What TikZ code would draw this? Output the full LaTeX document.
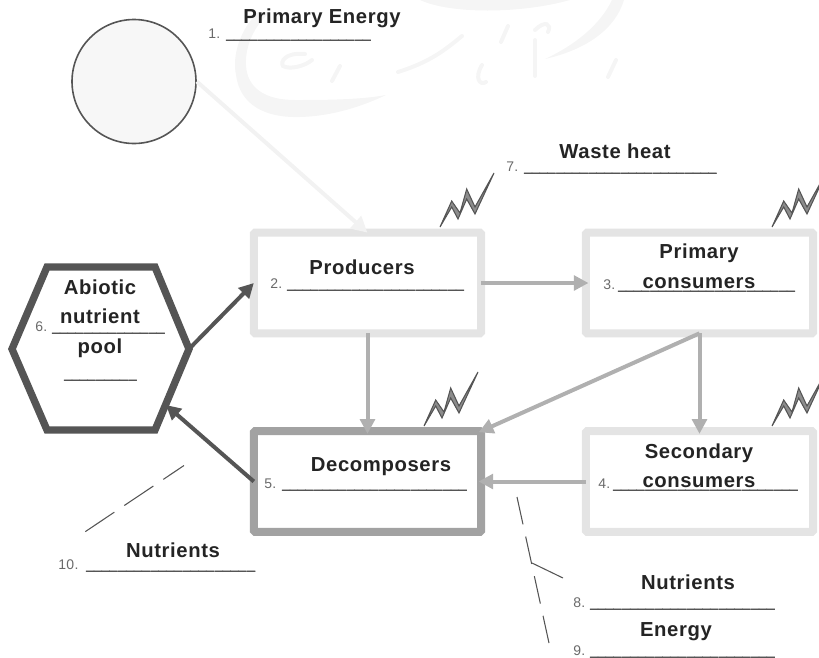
\documentclass[tikz,border=0pt]{standalone}
\usepackage{fontspec}
\setmainfont[LetterSpace=3]{Liberation Sans}
\newfontfamily\ulfont[FakeBold=2.5]{Liberation Sans}
\usetikzlibrary{arrows.meta}
\newcount\ucnt
\newcommand\ublank[1]{{\ulfont\color{darkline}\ucnt=0 \loop\ifnum\ucnt<#1 \_\advance\ucnt 1 \ifnum\numexpr\ucnt/4*4\relax=\ucnt \kern0.8pt\fi\repeat}}
\newcommand\numfield[2]{\makebox[#1pt][l]{#2}}
\definecolor{lightbox}{HTML}{E4E4E4}
\definecolor{midbox}{HTML}{A2A2A2}
\definecolor{darkline}{HTML}{555555}
\definecolor{arrowgrey}{HTML}{B0B0B0}
\definecolor{numgrey}{HTML}{6A6A6A}
\definecolor{inkgrey}{HTML}{242424}
\tikzset{
  x=0.75pt,y=-0.75pt,
  boxlight/.style={draw=lightbox,line width=6pt,rounded corners=1pt,minimum width=170.5pt,minimum height=75.5pt,inner sep=0pt,outer sep=0pt},
  boxmid/.style={boxlight,draw=midbox},
  boxlab/.style={font=\bfseries\fontsize{15.2pt}{17pt}\selectfont,text=inkgrey,inner sep=0pt},
  blank/.style={font=\fontsize{10.5pt}{12pt}\selectfont,text=numgrey,inner sep=0pt,anchor=base west},
  flow/.style={draw=arrowgrey,line width=3pt,-{Triangle[length=11pt,width=11pt]},shorten >=-2pt},
  flowdark/.style={draw=darkline,line width=3pt,-{Triangle[length=11pt,width=11pt]}},
  sunflow/.style={draw=black!5,line width=3pt,-{Triangle[length=12pt,width=12pt]}},
  leader/.style={draw=darkline,line width=0.8pt},
  boltshape/.style={draw=darkline,fill=gray!90,line width=0.8pt,line join=miter},
  watermark/.style={fill=black!4,draw=none},
  watermarkline/.style={draw=black!4,line width=3pt,line cap=round}
}
\newcommand\boltat[2]{\draw[boltshape,shift={(#1,#2)}] (0,0) -- (11.7,-26) -- (20,-14) -- (26.7,-38) -- (35,-20) -- (54,-54) -- (35,-13) -- (26.7,-28) -- (18,-8) -- (11.7,-20) -- cycle;}
\begin{document}
\begin{tikzpicture}
\useasboundingbox (0,0) rectangle (819,658);
\clip (0,0) rectangle (819,658);
% watermark
\fill[watermark] (258,12) .. controls (240,30) and (232,55) .. (236,75) .. controls (240,105) and (265,118) .. (300,117) .. controls (335,116) and (365,105) .. (386,95) .. controls (360,100) and (320,100) .. (295,100) .. controls (265,100) and (247,88) .. (246,65) .. controls (245,45) and (255,25) .. (270,12) -- cycle;
\fill[watermark] (624,0) .. controls (615,30) and (585,50) .. (545,59) .. controls (575,45) and (600,25) .. (612,0) -- cycle;
\fill[watermark] (420,0) .. controls (450,14) and (520,14) .. (570,0) -- cycle;
\draw[watermarkline] (305,54) .. controls (285,52) and (280,62) .. (283,66) .. controls (290,70) and (305,66) .. (312,60);
\draw[watermarkline] (340,66) -- (332,81);
\draw[watermarkline] (398,72) .. controls (430,62) and (445,50) .. (462,36);
\draw[watermarkline] (482,65) .. controls (474,78) and (480,86) .. (486,82);
\draw[watermarkline] (508,26) -- (501,42);
\draw[watermarkline] (535,40) -- (535,76);
\draw[watermarkline] (535,30) .. controls (545,20) and (552,24) .. (548,32);
\draw[watermarkline] (616,60) -- (608,77);
% sun
\node[circle,draw=darkline,fill=black!3,line width=1.2pt,minimum size=93pt,inner sep=0pt] (sun) at (134,81.5) {};
% boxes
\node[boxlight] (prod) at (367.5,283) {};
\node[boxlight] (prim) at (699.5,283) {};
\node[boxlight] (sec) at (699.5,481.5) {};
\node[boxmid] (dec) at (367.5,481.5) {};
% hexagon
\coordinate (hexR) at (189,349);
\coordinate (hexL) at (12,349);
\coordinate (hexLow) at (166,405);
\draw[darkline,line width=5.5pt,line join=miter] (hexL) -- (47,267) -- (155,267) -- (hexR) -- (155,430) -- (47,430) -- cycle;
% arrows
\draw[sunflow] (sun.east) -- (prod.north);
\draw[flow] (prod.east) -- (prim.west);
\draw[flow] (prod.south) -- (dec.north);
\draw[flow] (prim.south) -- (dec.north east);
\draw[flow] (prim.south) -- (sec.north);
\draw[flow] (sec.west) -- (dec.east);
\draw[flowdark] (dec.west) -- (hexLow);
\draw[flowdark] (hexR) -- (prod.west);
% bolts
\boltat{440}{227}
\boltat{772}{227}
\boltat{424}{426}
\boltat{772}{426}
% leader lines
\coordinate (l1a) at (184,465.5);
\coordinate (l1b) at (84,532.5);
\draw[leader,dash pattern=on 26.2pt off 9pt,dash phase=7.5pt] (l1a) -- (l1b);
\coordinate (l2a) at (517,497);
\coordinate (l2b) at (549,643);
\draw[leader,dash pattern=on 21pt off 9.4pt] (l2a) -- (l2b);
\coordinate (l3a) at (532,563);
\coordinate (l3b) at (563,578);
\draw[leader] (l3a) -- (l3b);
% blanks
\node[blank] (b1) at (208,38) {\numfield{13.5}{1.}\ublank{18}};
\node[blank] (b7) at (506,171) {\numfield{13.5}{7.}\ublank{24}};
\node[blank] (b2) at (270,288) {\numfield{12.75}{2.}\ublank{22}};
\node[blank] (b3) at (603,289) {\numfield{11.25}{3.}\ublank{22}};
\node[blank] (b4) at (598,488) {\numfield{11.25}{4.}\ublank{23}};
\node[blank] (b5) at (264,488) {\numfield{13.5}{5.}\ublank{23}};
\node[blank] (b6) at (35,331) {\numfield{12.75}{6.}\ublank{14}};
\node[blank] (b6b) at (64,378) {\ublank{9}};
\node[blank] (b10) at (58,569) {\numfield{21}{10.}\ublank{21}};
\node[blank] (b8) at (573,607) {\numfield{12.75}{8.}\ublank{23}};
\node[blank] (b9) at (573,655) {\numfield{12.75}{9.}\ublank{23}};
% labels
\node[boxlab] (t1) at (322,18) {Primary Energy};
\node[boxlab] (t7) at (615,151) {Waste heat};
\node[boxlab] (t2) at (362,267) {Producers};
\node[boxlab] (t3a) at (699,253) {Primary};
\node[boxlab] (t3b) at (699,283) {consumers};
\node[boxlab] (t4a) at (699,453) {Secondary};
\node[boxlab] (t4b) at (699,482) {consumers};
\node[boxlab] (t5) at (381,467) {Decomposers};
\node[boxlab] (t6a) at (100,287) {Abiotic};
\node[boxlab] (t6b) at (100,316) {nutrient};
\node[boxlab] (t6c) at (100,348) {pool};
\node[boxlab] (t10) at (173,550) {Nutrients};
\node[boxlab] (t8) at (688,582) {Nutrients};
\node[boxlab] (t9) at (676,632) {Energy};
\end{tikzpicture}
\end{document}
